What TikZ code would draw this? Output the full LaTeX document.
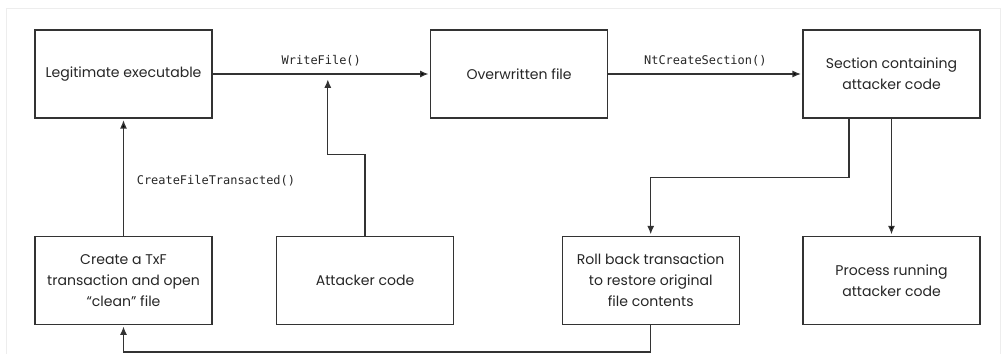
\documentclass[tikz,border=0pt]{standalone}
\usepackage{fontspec}
\setmainfont{Poppins}
\setmonofont{DejaVu Sans Mono}
\usetikzlibrary{arrows.meta,positioning,calc}

\begin{document}
\begin{tikzpicture}[shorten >=1pt,node distance=2cm,on grid,auto,>={Latex[length=6pt,width=5pt]},
    line width=0.9pt,
    box/.style={draw=black!80,line width=1pt,minimum width=4.425cm,minimum height=2.2cm,
        align=center,text=black!85,font=\fontsize{10}{15}\selectfont},
    call/.style={text=black!85,font=\ttfamily\fontsize{8.5}{10}\selectfont}]
    \useasboundingbox (-3.0875,1.85) rectangle (22.0875,-6.975);
    \draw[black!7,line width=0.6pt] (-2.9375,-7.1) |- (21.9125,1.65) -- (21.9125,-7.1);
    % top row
    \node[box] (legit) {Legitimate executable};
    \node[box] [right=9.89cm of legit] (overw) {Overwritten file};
    \node[box] [right=9.31cm of overw] (sect) {Section containing\\attacker code};
    % bottom row
    \node[box] [below=5.16cm of legit] (txf) {Create a TxF\\transaction and open\\``clean'' file};
    \node[box] [right=6.04cm of txf] (atk) {Attacker code};
    \node[box] [right=7.14cm of atk] (roll) {Roll back transaction\\to restore original\\file contents};
    \node[box] [below=5.16cm of sect] (proc) {Process running\\attacker code};
    \coordinate (wf) at ($(legit.east)!0.53!(overw.west)$);
    \path[->,draw=black!80]
    (legit) edge node[call,above=0.07cm] {WriteFile()} (overw)
    (overw) edge node[call,above=0.07cm] {NtCreateSection()} (sect)
    (txf) edge node[call,right=0.2cm,pos=0.47] {CreateFileTransacted()} (legit)
    (sect) edge (proc);
    \draw[->,black!80] (atk.north) -- ++(0,2.025) -| ([yshift=-0.1cm]wf);
    \draw[->,black!80] ([xshift=-1.06cm]sect.south) -- ++(0,-1.475) -| (roll.north);
    \draw[->,black!80] (roll.south) -- ++(0,-0.675) -| (txf.south);
\end{tikzpicture}
\end{document}
